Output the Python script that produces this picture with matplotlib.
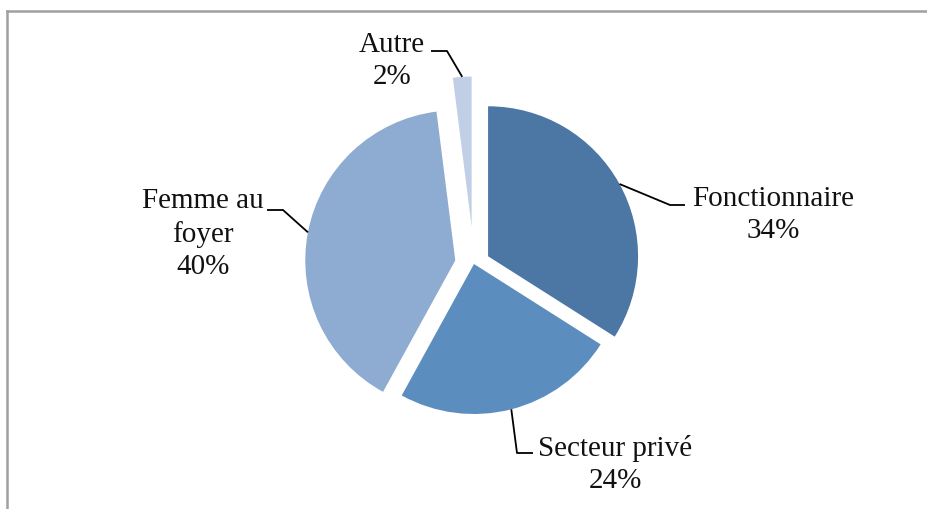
import numpy as np
import matplotlib.pyplot as plt
from matplotlib.lines import Line2D

# occupation shares (percent), clockwise from 12 o'clock
categories = ["Fonctionnaire", "Secteur privé", "Femme au foyer", "Autre"]
values = [34, 24, 40, 2]
label_texts = ["Fonctionnaire\n34%", "Secteur privé\n24%", "Femme au\nfoyer\n40%", "Autre\n2%"]
explode = [0.107, 0.0, 0.127, 0.25]   # fraction of the radius
colors = ["#4c77a5", "#5b8dbf", "#8eabd1", "#c1cfe6"]

W, H = 927, 510
fig = plt.figure(figsize=(W / 100, H / 100), dpi=100)
ax = fig.add_axes([0, 0, 1, 1])

# work in pixel-like units, y measured from the top
def Y(y):
    return H - y

cx, cy, R = 474, Y(265), 150
wedges, _ = ax.pie(values, colors=colors, startangle=90, counterclock=False,
                   explode=[e * R for e in explode], radius=R, center=(cx, cy),
                   wedgeprops=dict(linewidth=0))
ax.set_xlim(0, W)
ax.set_ylim(0, H)
ax.set_aspect("equal")
ax.axis("off")

font = dict(family="Liberation Serif", fontsize=21, color="#111111")

# text placement and leader-line elbows (x, y from top)
text_pos = [(773, 215), (615, 465), (203, 234), (392, 61)]
leader_mid = [[(670, 206), (685, 206)],
              [(517, 454), (533, 454)],
              [(283, 211), (267, 211)],
              [(447, 52), (431, 52)]]

for w, txt, (tx, ty), mids in zip(wedges, label_texts, text_pos, leader_mid):
    mid = np.deg2rad((w.theta1 + w.theta2) / 2)
    wx, wy = w.center
    start = (wx + w.r * np.cos(mid), wy + w.r * np.sin(mid))
    xs = [start[0]] + [m[0] for m in mids]
    ys = [start[1]] + [Y(m[1]) for m in mids]
    ax.plot(xs, ys, color="black", lw=1.3, solid_capstyle="butt")
    ax.text(tx, Y(ty), txt, ha="center", va="center", linespacing=1.3, **font)

# chart area frame (left and top edges)
fig.add_artist(Line2D([7.5 / W, 7.5 / W], [0, 1 - 12 / H], color="#a0a0a0", lw=1.8))
fig.add_artist(Line2D([7.5 / W, 1], [1 - 12 / H, 1 - 12 / H], color="#a0a0a0", lw=1.8))

fig.savefig("out.png", dpi=100)
